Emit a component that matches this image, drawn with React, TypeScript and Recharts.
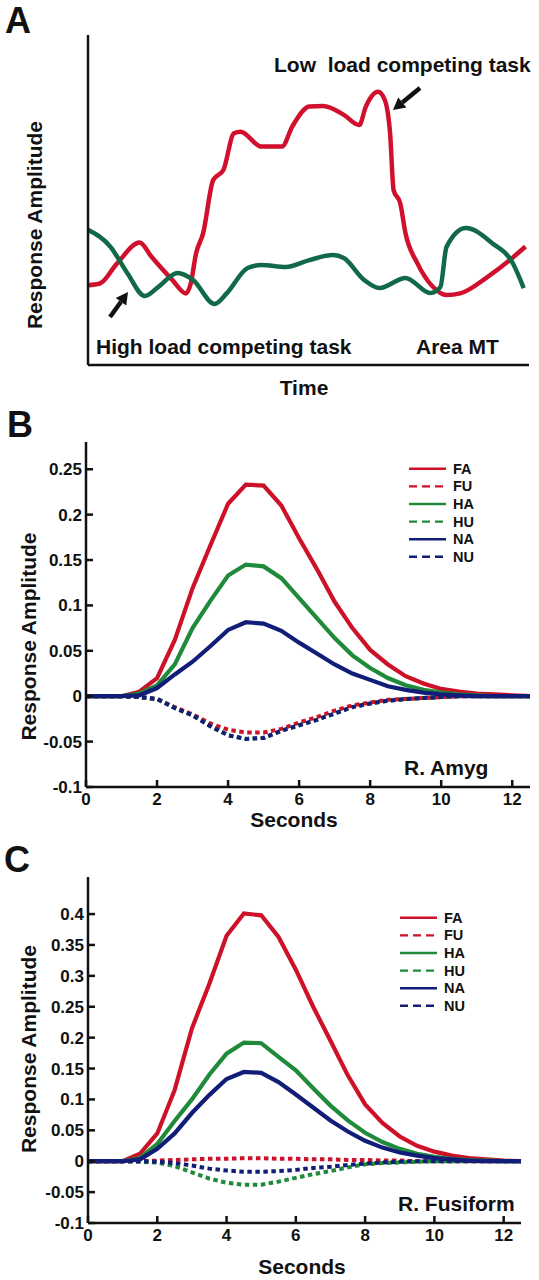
import React from "react";
import { Legend, Line, LineChart, XAxis, YAxis } from "recharts";

const FONT = "'Liberation Sans', Arial, Helvetica, sans-serif";
const INK = "#111";

// Panel A: schematic traces, time and amplitude in arbitrary 0-100 units
const A_LOW_T = [0, 2.7, 6.6, 11.7, 14.4, 19.1, 22.2, 23.3, 24.5, 26.1, 28.4, 30.7, 33.1, 34.6, 39.3, 44, 46.3, 50.2, 53.3, 58, 61.5, 63, 65.8, 67.3, 68.5, 69.3, 70.8, 72, 74.7, 78.2, 81.3, 84.4, 90.7, 96.1, 99.2];
const A_LOW_V = [24.2, 24.7, 30.8, 37.1, 32.8, 25.8, 21.7, 24.7, 33.8, 39.9, 56.1, 59.1, 70.2, 70.7, 66.2, 66.2, 72.2, 78.3, 78.5, 75.8, 72.7, 78.3, 82.8, 80.3, 70.2, 53, 49, 39.9, 30.8, 23.7, 21.2, 21.7, 26.8, 32.3, 35.9];
const A_HIGH_T = [0, 5.1, 8.9, 12.9, 15.9, 20.3, 23.8, 28.7, 31.5, 36.2, 39.3, 44.9, 50.2, 55.6, 58, 62.6, 66.1, 72, 77.6, 79.9, 81.3, 85.7, 91.6, 96.3, 98.8];
const A_HIGH_V = [41, 35.8, 27.9, 20.9, 23.6, 27.9, 25.8, 18.5, 21.8, 29.4, 30.3, 29.7, 31.8, 33.3, 32.4, 25.8, 23.3, 26.4, 21.8, 23.6, 35.8, 41.5, 37, 30.9, 23.3];

// Panels B and C: event-related responses sampled every 0.5 s
const SECONDS = [0, 0.5, 1, 1.5, 2, 2.5, 3, 3.5, 4, 4.5, 5, 5.5, 6, 6.5, 7, 7.5, 8, 8.5, 9, 9.5, 10, 10.5, 11, 11.5, 12, 12.5];

const AMYG_FA = [0, 0, 0, 0.005, 0.02, 0.062, 0.119, 0.166, 0.212, 0.233, 0.232, 0.21, 0.174, 0.14, 0.104, 0.075, 0.051, 0.035, 0.022, 0.014, 0.008, 0.005, 0.003, 0.002, 0.001, 0];
const AMYG_FU = [0, 0, 0, -0.001, -0.003, -0.012, -0.02, -0.03, -0.037, -0.04, -0.04, -0.036, -0.029, -0.023, -0.016, -0.01, -0.007, -0.004, -0.003, -0.002, -0.001, 0, 0, 0, 0, 0];
const AMYG_HA = [0, 0, 0, 0.003, 0.012, 0.035, 0.075, 0.105, 0.133, 0.145, 0.143, 0.13, 0.108, 0.086, 0.064, 0.045, 0.031, 0.02, 0.012, 0.007, 0.004, 0.002, 0.001, 0, 0, 0];
const AMYG_HU = [0, 0, 0, -0.001, -0.003, -0.013, -0.021, -0.033, -0.043, -0.047, -0.046, -0.038, -0.032, -0.026, -0.019, -0.012, -0.008, -0.005, -0.003, -0.002, -0.001, 0, 0, 0, 0, 0];
const AMYG_NA = [0, 0, 0, 0.001, 0.009, 0.024, 0.038, 0.055, 0.073, 0.0815, 0.08, 0.072, 0.059, 0.047, 0.035, 0.025, 0.018, 0.011, 0.007, 0.004, 0.002, 0.001, 0, 0, 0, 0];
const AMYG_NU = [0, 0, 0, -0.001, -0.003, -0.013, -0.021, -0.033, -0.043, -0.047, -0.046, -0.038, -0.032, -0.026, -0.019, -0.012, -0.008, -0.005, -0.003, -0.002, -0.001, 0, 0, 0, 0, 0];

const FUSI_FA = [0, 0, 0, 0.012, 0.045, 0.115, 0.215, 0.287, 0.365, 0.401, 0.398, 0.363, 0.31, 0.25, 0.195, 0.139, 0.092, 0.062, 0.04, 0.025, 0.0155, 0.009, 0.005, 0.003, 0.001, 0];
const FUSI_FU = [0, 0, 0, 0, 0.001, 0.002, 0.003, 0.004, 0.004, 0.005, 0.005, 0.004, 0.004, 0.003, 0.003, 0.002, 0.002, 0.001, 0.001, 0, 0, 0, 0, 0, 0, 0];
const FUSI_HA = [0, 0, 0, 0.005, 0.028, 0.065, 0.1, 0.14, 0.174, 0.192, 0.191, 0.169, 0.147, 0.118, 0.09, 0.066, 0.046, 0.031, 0.02, 0.012, 0.007, 0.004, 0.002, 0.001, 0, 0];
const FUSI_HU = [0, 0, 0, -0.001, -0.002, -0.008, -0.018, -0.028, -0.035, -0.038, -0.038, -0.033, -0.027, -0.021, -0.016, -0.01, -0.005, -0.003, -0.002, -0.001, 0, 0, 0, 0, 0, 0];
const FUSI_NA = [0, 0, 0, 0.003, 0.02, 0.045, 0.078, 0.107, 0.133, 0.1445, 0.143, 0.128, 0.108, 0.087, 0.066, 0.048, 0.033, 0.022, 0.014, 0.009, 0.005, 0.003, 0.001, 0, 0, 0];
const FUSI_NU = [0, 0, 0, 0, -0.001, -0.003, -0.007, -0.012, -0.015, -0.017, -0.017, -0.016, -0.014, -0.011, -0.009, -0.006, -0.004, -0.002, -0.001, 0, 0, 0, 0, 0, 0, 0];

const CONDITIONS = ["FA", "FU", "HA", "HU", "NA", "NU"];
const COND_COLORS = ["#cc1128", "#cc1128", "#1e8a3a", "#1e8a3a", "#121d78", "#121d78"];
const COND_DASHED = [false, true, false, true, false, true];

const SEC_TICKS = [0, 2, 4, 6, 8, 10, 12];
const AMYG_TICKS = [-0.1, -0.05, 0, 0.05, 0.1, 0.15, 0.2, 0.25];
const FUSI_TICKS = [-0.1, -0.05, 0, 0.05, 0.1, 0.15, 0.2, 0.25, 0.3, 0.35, 0.4];

const axisStyle = { stroke: INK, strokeWidth: 2.5 };
const tickStyle = { fill: INK, fontSize: 17, fontWeight: 700, fontFamily: FONT };
const titleStyle = { fill: INK, fontSize: 21, fontWeight: 700, fontFamily: FONT };

function toRows(lists: number[][]) {
  return SECONDS.map((s, i) => {
    const row: Record<string, number> = { s };
    CONDITIONS.forEach((c, k) => (row[c] = lists[k][i]));
    return row;
  });
}

function toPoints(ts: number[], vs: number[]) {
  return ts.map((t, i) => ({ t, v: vs[i] }));
}

// axis titles placed relative to the axis box recharts hands over
function XTitle(props: any) {
  const vb = props.viewBox;
  return (
    <text x={vb.x + vb.width / 2 + props.dx} y={vb.y + props.base} textAnchor="middle" style={titleStyle}>
      {props.text}
    </text>
  );
}

function YTitle(props: any) {
  const vb = props.viewBox;
  const x = props.base;
  const y = vb.y + vb.height / 2 + props.dy;
  return (
    <text x={x} y={y} transform={`rotate(-90 ${x} ${y})`} textAnchor="middle" style={titleStyle}>
      {props.text}
    </text>
  );
}

function CondLegend() {
  const step = 17.6;
  return (
    <svg width={80} height={step * 6}>
      {CONDITIONS.map((c, i) => {
        const y = i * step + step / 2;
        return (
          <g key={c}>
            <line x1={0} x2={37} y1={y} y2={y} stroke={COND_COLORS[i]} strokeWidth={2.4} strokeDasharray={COND_DASHED[i] ? "8 5" : undefined} />
            <text x={44} y={y + 5} style={{ fill: INK, fontSize: 14.5, fontWeight: 700, fontFamily: FONT }}>{c}</text>
          </g>
        );
      })}
    </svg>
  );
}

type PanelProps = {
  top: number;
  height: number;
  rows: Record<string, number>[];
  yDomain: number[];
  yTicks: number[];
  yAxisWidth: number;
  marginTop: number;
  marginRight: number;
  xAxisHeight: number;
  titleDy: number;
  secondsDx: number;
  secondsBase: number;
  legendLeft: number;
  legendTop: number;
};

function ResponsePanel(p: PanelProps) {
  return (
    <div style={{ position: "absolute", left: 0, top: p.top }}>
      <LineChart width={539} height={p.height} data={p.rows} margin={{ top: p.marginTop, right: p.marginRight, bottom: 0, left: 0 }}>
        <XAxis
          type="number"
          dataKey="s"
          domain={[0, 12.5]}
          ticks={SEC_TICKS}
          interval={0}
          height={p.xAxisHeight}
          axisLine={axisStyle}
          tickLine={axisStyle}
          tickSize={-7}
          tickMargin={13}
          tick={tickStyle}
          label={<XTitle text="Seconds" dx={p.secondsDx} base={p.secondsBase} />}
        />
        <YAxis
          type="number"
          domain={p.yDomain}
          ticks={p.yTicks}
          interval={0}
          width={p.yAxisWidth}
          axisLine={axisStyle}
          tickLine={axisStyle}
          tickSize={-7}
          tickMargin={11}
          tick={tickStyle}
          label={<YTitle text="Response Amplitude" base={35.5} dy={p.titleDy} />}
        />
        <Legend
          layout="horizontal"
          align="center"
          verticalAlign="middle"
          content={<CondLegend />}
          wrapperStyle={{ left: p.legendLeft, top: p.legendTop, width: 80 }}
        />
        {CONDITIONS.map((c, i) => (
          <Line
            key={c}
            type="linear"
            dataKey={c}
            stroke={COND_COLORS[i]}
            strokeWidth={COND_DASHED[i] ? 4 : 4.2}
            strokeDasharray={COND_DASHED[i] ? "4.5 3.5" : undefined}
            dot={false}
            isAnimationActive={false}
          />
        ))}
      </LineChart>
    </div>
  );
}

function Arrow({ x1, y1, x2, y2 }: { x1: number; y1: number; x2: number; y2: number }) {
  const len = Math.hypot(x2 - x1, y2 - y1);
  const ux = (x2 - x1) / len;
  const uy = (y2 - y1) / len;
  const bx = x2 - ux * 12;
  const by = y2 - uy * 12;
  const hw = 6.5;
  return (
    <g>
      <line x1={x1} y1={y1} x2={bx} y2={by} stroke={INK} strokeWidth={4.5} />
      <polygon points={`${x2},${y2} ${bx - uy * hw},${by + ux * hw} ${bx + uy * hw},${by - ux * hw}`} fill={INK} />
    </g>
  );
}

export default function App() {
  const letter = { fill: INK, fontSize: 36, fontWeight: 700, fontFamily: FONT };
  const note = { fill: INK, fontSize: 21, fontWeight: 700, fontFamily: FONT, whiteSpace: "pre" as const };
  return (
    <div style={{ position: "absolute", left: 0, top: 0, width: 539, height: 1280, background: "#fff" }}>
      <div style={{ position: "absolute", left: 0, top: 0 }}>
        <LineChart width={539} height={400} margin={{ top: 35, right: 10, bottom: 0, left: 0 }}>
          <XAxis type="number" dataKey="t" domain={[0, 100]} height={35} axisLine={axisStyle} tick={false} tickLine={false}
            label={<XTitle text="Time" dx={-4.5} base={30} />} />
          <YAxis type="number" dataKey="v" domain={[0, 100]} width={88} axisLine={axisStyle} tick={false} tickLine={false}
            label={<YTitle text="Response Amplitude" base={42} dy={25} />} />
          <Line data={toPoints(A_LOW_T, A_LOW_V)} dataKey="v" type="monotone" stroke="#d0102c" strokeWidth={4.5} dot={false} isAnimationActive={false} />
          <Line data={toPoints(A_HIGH_T, A_HIGH_V)} dataKey="v" type="monotone" stroke="#11694a" strokeWidth={4.5} dot={false} isAnimationActive={false} />
        </LineChart>
      </div>

      <ResponsePanel top={400} height={430} rows={toRows([AMYG_FA, AMYG_FU, AMYG_HA, AMYG_HU, AMYG_NA, AMYG_NU])}
        yDomain={[-0.1, 0.28]} yTicks={AMYG_TICKS} yAxisWidth={86} marginTop={42} marginRight={9} xAxisHeight={43}
        titleDy={22} secondsDx={-14} secondsBase={40} legendLeft={409} legendTop={59.7} />

      <ResponsePanel top={830} height={450} rows={toRows([FUSI_FA, FUSI_FU, FUSI_HA, FUSI_HU, FUSI_NA, FUSI_NU])}
        yDomain={[-0.1, 0.46]} yTicks={FUSI_TICKS} yAxisWidth={88} marginTop={47} marginRight={18} xAxisHeight={57}
        titleDy={-1} secondsDx={-2.5} secondsBase={51} legendLeft={400} legendTop={79} />

      <svg width={539} height={1280} style={{ position: "absolute", left: 0, top: 0, pointerEvents: "none" }}>
        <text x={5} y={33} style={letter}>A</text>
        <text x={7} y={437} style={letter}>B</text>
        <text x={4} y={872} style={letter}>C</text>
        <text x={274} y={72} style={note}>Low  load competing task</text>
        <text x={96} y={354} style={note}>High load competing task</text>
        <text x={416} y={354} style={note}>Area MT</text>
        <text x={404} y={775} style={note}>R. Amyg</text>
        <text x={398} y={1211} style={note}>R. Fusiform</text>
        <Arrow x1={420} y1={88} x2={393} y2={110} />
        <Arrow x1={110} y1={317} x2={128} y2={292} />
      </svg>
    </div>
  );
}
